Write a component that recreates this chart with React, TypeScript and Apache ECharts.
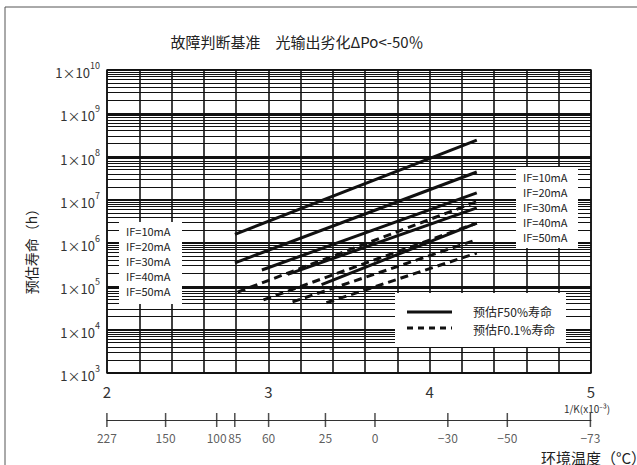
import React, { useEffect, useRef } from "react";
import * as echarts from "echarts";

// ---------- data ----------
const titleText = "故障判断基准　光输出劣化ΔPo<-50％";
const yAxisName = "预估寿命（h）";
const xUnitLabel = "1/K(x10⁻³)";
const tempAxisName = "环境温度（°C）";
const decadeExponents = [3, 4, 5, 6, 7, 8, 9, 10];
const minorMantissas = [2, 3, 4, 5, 6, 7, 8, 9];
const xTickLabels = [2, 3, 4, 5];
const tempTicks = [227, 150, 100, 85, 60, 25, 0, -30, -50, -73];
const currentLabels = ["IF=10mA", "IF=20mA", "IF=30mA", "IF=40mA", "IF=50mA"];
const legendF50 = "预估F50%寿命";
const legendF01 = "预估F0.1%寿命";

// [1/K (x10^-3), life in hours]
const f50_10mA = [[2.793, 1.6e6], [4.292, 2.4e8]];
const f50_20mA = [[2.793, 3.5e5], [4.292, 4.4e7]];
const f50_30mA = [[2.96, 2.4e5], [4.292, 1.45e7]];
const f50_40mA = [[3.12, 1.9e5], [4.292, 6.5e6]];
const f50_50mA = [[3.33, 1.1e5], [4.292, 2.9e6]];

const f01_10mA = [[2.81, 7.4e4], [4.292, 9.1e6]];
const f01_20mA = [[2.97, 4.9e4], [4.292, 2.9e6]];
const f01_30mA = [[3.15, 4.4e4], [4.292, 1.2e6]];
const f01_40mA = [[3.36, 4.2e4], [4.292, 5.9e5]];

const solidSeries = [f50_10mA, f50_20mA, f50_30mA, f50_40mA, f50_50mA];
const dashedSeries = [f01_10mA, f01_20mA, f01_30mA, f01_40mA];

const FONT = "'Noto Sans CJK SC', 'Noto Sans', sans-serif";

export default function App() {
  const ref = useRef<HTMLDivElement>(null);
  useEffect(() => {
    if (!ref.current) return;
    const chart = echarts.init(ref.current, null, { renderer: "svg" });
    const toLog = (arr: number[][]) => arr.map(([x, v]) => [x, Math.log10(v)]);

    const minorLines: any[] = [];
    decadeExponents.slice(0, -1).forEach((e) => {
      minorMantissas.forEach((m) => minorLines.push({ yAxis: Math.log10(m) + e }));
    });

    const series: any[] = [];
    solidSeries.forEach((d, i) => {
      series.push({
        type: "line",
        data: toLog(d),
        symbol: "none",
        lineStyle: { color: "#111", width: 3, type: "solid" },
        z: 5,
        silent: true,
        ...(i === 0
          ? {
              markLine: {
                silent: true,
                symbol: "none",
                label: { show: false },
                lineStyle: { color: "#111", width: 1, type: "solid" },
                data: minorLines,
                z: 1,
              },
            }
          : {}),
      });
    });
    dashedSeries.forEach((d) => {
      series.push({
        type: "line",
        data: toLog(d),
        symbol: "none",
        lineStyle: { color: "#111", width: 3, type: [8, 5] },
        z: 5,
        silent: true,
      });
    });
    series.push({
      type: "scatter",
      xAxisIndex: 1,
      yAxisIndex: 1,
      symbol: "rect",
      symbolSize: [1.5, 14],
      itemStyle: { color: "#222" },
      data: tempTicks.map((t) => ({
        value: [1000 / (t + 273.15), 0],
        name: t < 0 ? "−" + Math.abs(t) : String(t),
      })),
      label: {
        show: true,
        position: "bottom",
        distance: 4,
        formatter: (p: any) => p.name,
        color: "#333",
        fontSize: 12,
        fontFamily: FONT,
      },
      silent: true,
    });

    const legendRowsLeft = currentLabels.map((t, i) => ({
      type: "text",
      left: 126,
      top: 225 + i * 15,
      style: { text: t, fontSize: 11, fill: "#222", fontFamily: FONT },
    }));
    const legendRowsRight = currentLabels.map((t, i) => ({
      type: "text",
      left: 523,
      top: 171 + i * 15,
      style: { text: t, fontSize: 11, fill: "#222", fontFamily: FONT },
    }));

    chart.setOption({
      animation: false,
      backgroundColor: "#fff",
      title: {
        text: titleText,
        left: 292,
        top: 29,
        textAlign: "center",
        textStyle: { fontSize: 15, fontWeight: "normal", color: "#222", fontFamily: FONT },
      },
      grid: [
        { left: 107, top: 70, width: 484, height: 303, show: true, borderColor: "#222", borderWidth: 1.5 },
        { left: 107, top: 413, width: 484, height: 14 },
      ],
      xAxis: [
        {
          type: "value",
          gridIndex: 0,
          min: 2,
          max: 5,
          interval: 0.2,
          axisLine: { show: false },
          axisTick: { show: false },
          splitLine: { show: true, lineStyle: { color: "#111", width: 1.6 } },
          axisLabel: {
            margin: 11,
            fontSize: 15,
            color: "#333",
            fontFamily: FONT,
            formatter: (v: number) => {
              const r = Math.round(v);
              return Math.abs(v - r) < 1e-6 && xTickLabels.includes(r) ? String(r) : "";
            },
          },
        },
        {
          type: "value",
          gridIndex: 1,
          min: 2,
          max: 5,
          axisLine: { show: true, onZero: true, lineStyle: { color: "#333", width: 1 } },
          axisTick: { show: false },
          axisLabel: { show: false },
          splitLine: { show: false },
        },
      ],
      yAxis: [
        {
          type: "value",
          gridIndex: 0,
          min: 3,
          max: 10,
          interval: 1,
          axisLine: { show: false },
          axisTick: { show: false },
          splitLine: { show: true, lineStyle: { color: "#111", width: 2 } },
          axisLabel: {
            margin: 7,
            color: "#333",
            fontFamily: FONT,
            formatter: (v: number) => `{a|1×10}{b|${Math.round(v)}}`,
            rich: {
              a: { fontSize: 13, color: "#333", fontFamily: FONT, lineHeight: 18, verticalAlign: "bottom" },
              b: { fontSize: 9, color: "#333", fontFamily: FONT, lineHeight: 18, verticalAlign: "top", padding: [0, 0, 6, 0] },
            },
          },
        },
        { type: "value", gridIndex: 1, min: -1, max: 1, show: false },
      ],
      series,
      graphic: [
        {
          type: "rect",
          shape: { x: 5, y: 7, width: 700, height: 520 },
          style: { fill: "none", stroke: "#555", lineWidth: 1 },
          silent: true,
          z: 0,
        },
        {
          type: "text",
          x: 31,
          y: 248,
          rotation: Math.PI / 2,
          style: {
            text: yAxisName,
            fontSize: 14,
            fill: "#222",
            fontFamily: FONT,
            align: "center",
            verticalAlign: "middle",
          },
          z: 100,
        },
        {
          type: "text",
          x: 587,
          y: 408,
          style: { text: xUnitLabel, fontSize: 10, fill: "#333", fontFamily: FONT, align: "center", verticalAlign: "middle" },
          z: 100,
        },
        {
          type: "text",
          x: 541,
          y: 457,
          style: { text: tempAxisName, fontSize: 15, fill: "#222", fontFamily: FONT, align: "left", verticalAlign: "middle" },
          z: 100,
        },
        {
          type: "rect",
          shape: { x: 119, y: 222, width: 63, height: 82 },
          style: { fill: "#fff", stroke: "none" },
          z: 50,
        },
        ...legendRowsLeft.map((t) => ({ ...t, z: 60 })),
        {
          type: "rect",
          shape: { x: 516, y: 167, width: 62, height: 81 },
          style: { fill: "#fff", stroke: "none" },
          z: 50,
        },
        ...legendRowsRight.map((t) => ({ ...t, z: 60 })),
        {
          type: "rect",
          shape: { x: 395, y: 293, width: 171, height: 54 },
          style: { fill: "#fff", stroke: "none" },
          z: 50,
        },
        {
          type: "line",
          shape: { x1: 407, y1: 312, x2: 452, y2: 312 },
          style: { stroke: "#111", lineWidth: 3 },
          z: 60,
        },
        {
          type: "line",
          shape: { x1: 407, y1: 328, x2: 452, y2: 328 },
          style: { stroke: "#111", lineWidth: 3, lineDash: [6, 5] },
          z: 60,
        },
        {
          type: "text",
          x: 473,
          y: 311,
          style: { text: legendF50, fontSize: 12, fill: "#222", fontFamily: FONT, verticalAlign: "middle" },
          z: 60,
        },
        {
          type: "text",
          x: 473,
          y: 329,
          style: { text: legendF01, fontSize: 12, fill: "#222", fontFamily: FONT, verticalAlign: "middle" },
          z: 60,
        },
      ],
    });
    return () => chart.dispose();
  }, []);
  return <div ref={ref} style={{ width: 637, height: 465, position: "absolute", left: 0, top: 0 }} />;
}
